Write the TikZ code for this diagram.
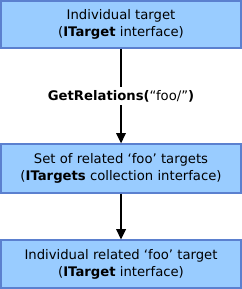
\documentclass[tikz,border=0pt]{standalone}
\usepackage{fontspec}
\setmainfont{DejaVu Sans}
\usetikzlibrary{arrows.meta,positioning}
\definecolor{ink}{HTML}{000000}
\definecolor{boxfill}{HTML}{99CCFF}
\definecolor{boxline}{HTML}{5B80CF}
\newcommand{\thirteen}{\fontsize{13.2bp}{17bp}\selectfont}
\tikzset{
 every node/.append style={font=\thirteen,text=ink,align=center},
 target/.style={draw=boxline,fill=boxfill,line width=1.3pt,minimum width=8.47cm,inner sep=0pt},
 call/.style={fill=white,inner xsep=2pt,inner ysep=3pt},
 flow/.style={-{Triangle[length=3.6mm,width=3.4mm]},draw=ink,line width=1.4pt},
}

\begin{document}
\begin{tikzpicture}

\useasboundingbox (0,0) rectangle (8.537,-10.195);
\node[target,minimum height=1.66cm] (single) at (4.269,-0.864) {Individual target\\(\textbf{ITarget} interface)};
\node[target,minimum height=1.73cm] (set) at (4.269,-5.944) {Set of related ‘foo’ targets\\(\textbf{ITargets} collection interface)};
\node[target,minimum height=1.69cm] (related) at (4.269,-9.313) {Individual related ‘foo’ target\\(\textbf{ITarget} interface)};
\draw[flow] (single) -- (set) node[call,pos=.5] (getrel) {\textbf{GetRelations(}“foo/”\textbf{)}};
\draw[flow] (set) -- (related);

\end{tikzpicture}
\end{document}
